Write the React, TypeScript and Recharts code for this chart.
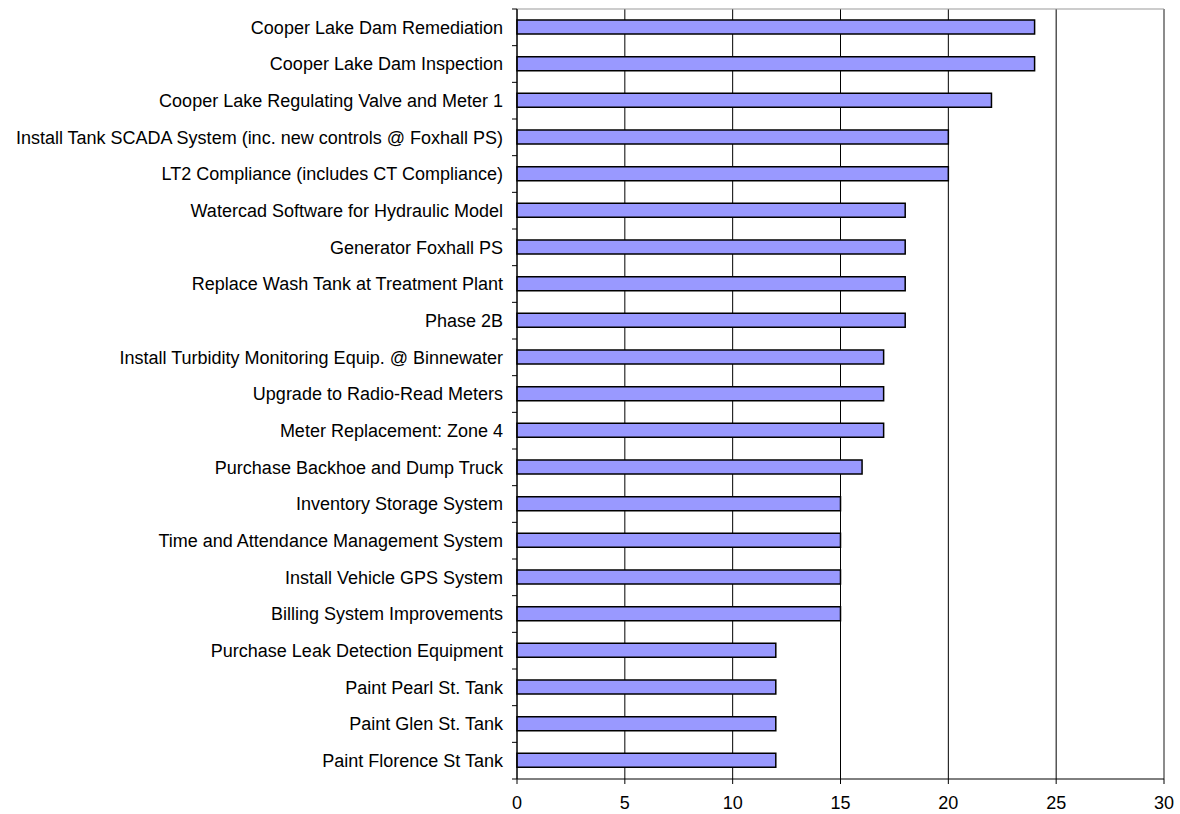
import { BarChart, Bar, XAxis, YAxis, CartesianGrid } from 'recharts';

const projects = [
    'Cooper Lake Dam Remediation',
    'Cooper Lake Dam Inspection',
    'Cooper Lake Regulating Valve and Meter 1',
    'Install Tank SCADA System (inc. new controls @ Foxhall PS)',
    'LT2 Compliance (includes CT Compliance)',
    'Watercad Software for Hydraulic Model',
    'Generator Foxhall PS',
    'Replace Wash Tank at Treatment Plant',
    'Phase 2B',
    'Install Turbidity Monitoring Equip. @ Binnewater',
    'Upgrade to Radio-Read Meters',
    'Meter Replacement: Zone 4',
    'Purchase Backhoe and Dump Truck',
    'Inventory Storage System',
    'Time and Attendance Management System',
    'Install Vehicle GPS System',
    'Billing System Improvements',
    'Purchase Leak Detection Equipment',
    'Paint Pearl St. Tank ',
    'Paint Glen St. Tank',
    'Paint Florence St Tank',
];

const scores = [24, 24, 22, 20, 20, 18, 18, 18, 18, 17, 17, 17, 16, 15, 15, 15, 15, 12, 12, 12, 12];

const xTicks = [0, 5, 10, 15, 20, 25, 30];

const W = 1180;
const H = 814;
const TOP = 9;
const X_AXIS_H = 35;
const FONT = '"Liberation Sans", Arial, sans-serif';

const band = (H - TOP - X_AXIS_H) / projects.length;

const data = projects.map((name, i) => ({ name, score: scores[i] }));

// labels plus the little tick marks that sit between categories
function CategoryTick(props: any) {
    const { x, y, payload, index } = props;
    return (
        <g>
            <text x={x} y={y} dy="0.355em" textAnchor="end" fontSize={18} fontFamily={FONT} fill="#000">
                {payload.value}
            </text>
            {index === 0 && <line x1={x + 9} x2={x + 14} y1={y - band / 2} y2={y - band / 2} stroke="#000" />}
            <line x1={x + 9} x2={x + 14} y1={y + band / 2} y2={y + band / 2} stroke="#000" />
        </g>
    );
}

export default function App() {
    return (
        <div style={{ position: 'absolute', left: 0, top: 0, background: '#fff' }}>
            <BarChart
                width={W}
                height={H}
                data={data}
                layout="vertical"
                margin={{ top: TOP, right: 16, bottom: 0, left: 0 }}
                barSize={14}
            >
                <CartesianGrid horizontal={false} stroke="#000" />
                <CartesianGrid
                    stroke="#999"
                    horizontalCoordinatesGenerator={({ offset }: any) => [offset.top]}
                    verticalCoordinatesGenerator={({ offset }: any) => [offset.left + offset.width]}
                />
                <XAxis
                    type="number"
                    domain={[0, 30]}
                    ticks={xTicks}
                    height={X_AXIS_H}
                    tickSize={5}
                    tickMargin={12}
                    stroke="#000"
                    tick={{ fill: '#000', fontSize: 18, fontFamily: FONT }}
                />
                <YAxis
                    type="category"
                    dataKey="name"
                    width={517}
                    tickSize={0}
                    tickMargin={14}
                    stroke="#000"
                    interval={0}
                    tick={<CategoryTick />}
                />
                <Bar dataKey="score" fill="#9999FF" stroke="#000" strokeWidth={1.5} isAnimationActive={false} />
            </BarChart>
        </div>
    );
}
